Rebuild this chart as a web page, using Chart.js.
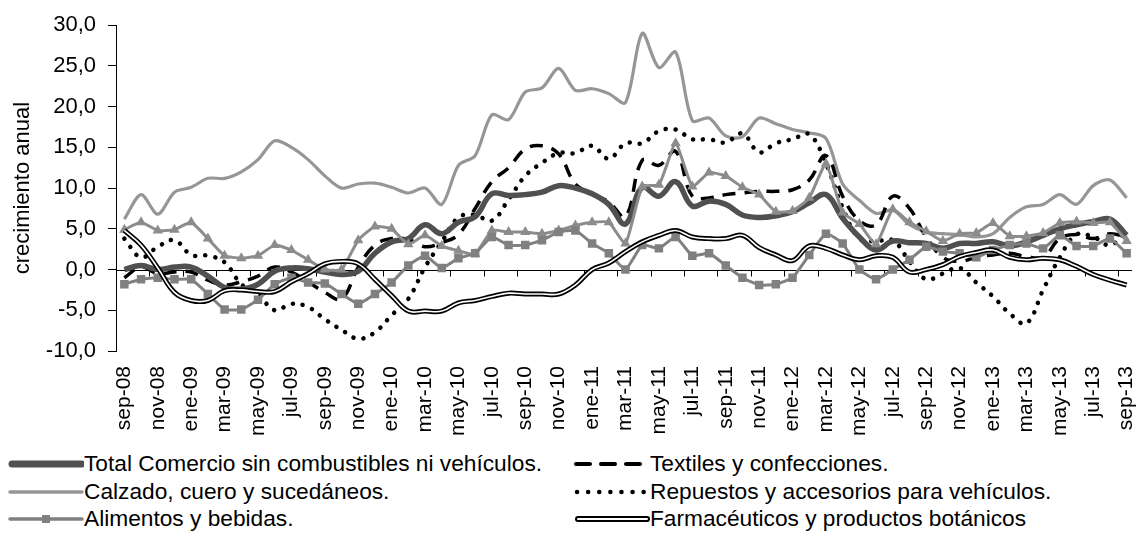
<!DOCTYPE html>
<html>
<head>
<meta charset="utf-8">
<script src="https://cdn.jsdelivr.net/npm/chart.js@4.4.1/dist/chart.umd.min.js"></script>
<style>
  html, body { margin: 0; padding: 0; background: #fff; }
  #wrap { position: relative; width: 1144px; height: 544px; overflow: hidden; font-family: 'Liberation Sans', Arimo, Arial, sans-serif; }
  #chartBox { position: absolute; left: 0; top: 0; width: 1144px; height: 450px; }
  .leg { position: absolute; height: 28px; display: flex; align-items: center; white-space: nowrap; }
  .leg svg { flex: none; }
  .leg span { font-size: 22px; color: #000; display: inline-block; transform-origin: left center; line-height: 28px; }
</style>
</head>
<body>
<div id="wrap">
  <div id="chartBox"><canvas id="c"></canvas></div>
  <div id="legend"></div>
</div>
<script>
const categories = ["sep-08","oct-08","nov-08","dic-08","ene-09","feb-09","mar-09","abr-09","may-09","jun-09",
  "jul-09","ago-09","sep-09","oct-09","nov-09","dic-09","ene-10","feb-10","mar-10","abr-10",
  "may-10","jun-10","jul-10","ago-10","sep-10","oct-10","nov-10","dic-10","ene-11","feb-11",
  "mar-11","abr-11","may-11","jun-11","jul-11","ago-11","sep-11","oct-11","nov-11","dic-11",
  "ene-12","feb-12","mar-12","abr-12","may-12","jun-12","jul-12","ago-12","sep-12","oct-12",
  "nov-12","dic-12","ene-13","feb-13","mar-13","abr-13","may-13","jun-13","jul-13","ago-13",
  "sep-13"];

const totalComercio = [0.0, 0.5, 0.0, 0.3, 0.3, -0.8, -2.2, -2.4, -1.8, -0.2,
  0.2, 0.1, -0.3, -0.6, -0.2, 2.0, 3.4, 3.8, 5.5, 4.4,
  5.8, 6.5, 9.3, 9.1, 9.2, 9.5, 10.3, 10.0, 9.3, 8.0,
  5.6, 10.1, 9.0, 10.8, 7.8, 8.4, 8.0, 6.7, 6.4, 6.6,
  7.1, 8.2, 9.2, 6.3, 4.0, 2.4, 3.5, 3.3, 3.2, 2.6,
  3.2, 3.2, 3.4, 2.9, 3.4, 4.2, 5.0, 5.5, 5.9, 6.2,
  4.2];

const textiles = [-1.0, 0.3, -0.5, -0.3, -0.3, -1.3, -1.9, -1.5, -0.8, 0.3,
  -0.3, -1.5, -2.8, -3.6, 0.3, 3.0, 3.8, 3.7, 2.8, 3.3,
  4.3, 7.5, 10.8, 12.5, 14.8, 15.2, 14.2, 10.5, 9.3, 8.3,
  6.5, 13.4, 12.8, 14.5, 9.0, 8.8, 9.2, 9.4, 9.6, 9.6,
  9.8, 11.0, 14.0, 9.0, 6.0, 5.5, 9.0, 7.5, 4.0, 1.5,
  1.0, 1.5, 1.8, 2.0, 1.6, 1.5, 3.8, 4.3, 3.8, 4.4,
  4.0];

const calzado = [6.2, 9.2, 6.8, 9.5, 10.1, 11.2, 11.2, 12.0, 13.5, 15.8,
  15.0, 13.5, 11.5, 10.0, 10.5, 10.6, 10.1, 9.4, 10.0, 8.0,
  12.8, 14.0, 19.0, 18.4, 21.8, 22.3, 24.7, 22.0, 22.2, 21.6,
  20.5, 29.0, 24.8, 26.7, 18.3, 18.6, 16.4, 16.3, 18.6, 17.9,
  17.2, 16.8, 16.1, 10.5, 8.5, 6.9, 7.3, 5.5, 4.6, 4.4,
  4.3, 4.0, 4.4, 6.4, 7.7, 8.0, 9.2, 8.0, 10.3, 11.0,
  8.8];

const repuestos = [3.8, 1.5, 2.8, 3.6, 1.8, 1.7, 0.9, -1.8, -3.0, -5.0,
  -4.2, -4.6, -6.1, -7.4, -8.5, -7.7, -5.6, -3.6, 0.3, 3.4,
  6.4, 6.7, 6.0, 8.6, 11.5, 13.1, 14.3, 14.3, 15.2, 13.6,
  15.5, 15.5, 17.0, 17.2, 16.0, 16.0, 15.6, 16.7, 14.4, 15.5,
  16.0, 16.6, 13.0, 7.6, 3.8, 3.5, 3.6, 1.0, -1.2, -0.5,
  0.2, -1.6, -3.3, -5.4, -6.6, -2.5, 1.5, 4.3, 4.0, 3.0,
  4.7];

const alimentos = [-1.8, -1.2, -1.0, -1.2, -1.2, -3.0, -4.9, -4.9, -3.7, -1.8,
  -1.0, -1.6, -1.7, -3.0, -4.2, -3.0, -1.6, 0.5, 1.7, 0.2,
  1.4, 2.0, 4.0, 3.0, 3.0, 3.6, 4.6, 4.8, 3.2, 2.0,
  0.0, 3.0, 2.6, 4.0, 1.7, 2.0, 0.5, -1.0, -1.9, -1.8,
  -1.0, 1.8, 4.4, 3.2, 0.0, -1.2, 0.0, 1.2, 2.8, 2.2,
  2.0, 1.5, 2.4, 3.0, 3.2, 2.6, 4.2, 2.9, 2.9, 3.8,
  2.0];

const farmaceuticos = [4.8, 3.0, 0.2, -2.8, -3.8, -3.8, -2.6, -2.5, -2.7, -2.7,
  -1.5, -0.5, 0.7, 1.0, 0.7, -1.2, -3.2, -5.1, -5.1, -5.1,
  -4.1, -3.8, -3.3, -2.9, -3.0, -3.0, -3.0, -1.9, 0.0, 0.8,
  2.2, 3.4, 4.2, 4.8, 4.0, 3.8, 3.8, 4.2, 2.7, 1.8,
  1.1, 2.9, 2.6, 1.8, 1.2, 1.7, 1.5, -0.3, 0.0, 0.6,
  1.6, 2.1, 2.4, 1.5, 1.2, 1.4, 1.2, 0.4, -0.6, -1.3,
  -1.9];

// series drawn with triangle markers (no legend entry in the original)
const serieTriangulos = [4.9, 5.8, 4.8, 4.9, 5.8, 3.8, 1.7, 1.4, 1.7, 3.0,
  2.4, 1.2, 0.0, 0.0, 3.6, 5.3, 5.0, 3.1, 4.2, 2.9,
  2.3, 1.9, 4.8, 4.6, 4.6, 4.4, 4.8, 5.4, 5.8, 5.8,
  3.2, 10.2, 10.4, 15.5, 10.2, 11.9, 11.5, 10.1, 9.2, 7.1,
  7.2, 8.8, 13.0, 7.0, 5.6, 3.1, 7.4, 5.8, 4.7, 3.5,
  4.4, 4.5, 5.7, 4.1, 4.1, 4.5, 5.7, 5.9, 5.7, 5.8,
  3.5];

const seriesNames = {
  total: "Total Comercio sin combustibles ni vehículos.",
  textiles: "Textiles y confecciones.",
  calzado: "Calzado, cuero y sucedáneos.",
  repuestos: "Repuestos y accesorios para vehículos.",
  alimentos: "Alimentos y bebidas.",
  farma: "Farmacéuticos y productos botánicos"
};
const yAxisTitle = "crecimiento anual";

const FONT = "'Liberation Sans', Arimo, Arial, sans-serif";
const C_TOTAL = '#505050', C_CALZ = '#969696', C_ALIM = '#808080', C_TRI = '#8c8c8c';

const zeroAxis = {
  id: 'zeroAxis',
  beforeDatasetsDraw(chart) {
    const { ctx, chartArea, scales } = chart;
    const x = scales.x, y = scales.y;
    const y0 = Math.round(y.getPixelForValue(0)) + 0.5;
    const step = x.getPixelForValue(1) - x.getPixelForValue(0);
    ctx.save();
    ctx.strokeStyle = '#000';
    ctx.lineWidth = 1;
    ctx.beginPath();
    ctx.moveTo(chartArea.left, y0);
    ctx.lineTo(chartArea.right - 3, y0);
    for (let i = 0; i < categories.length; i += 2) {
      const bx = Math.round(x.getPixelForValue(i) - step / 2) + 0.5;
      ctx.moveTo(bx, y0);
      ctx.lineTo(bx, y0 + 6);
    }
    ctx.stroke();
    ctx.restore();
  }
};

new Chart(document.getElementById('c'), {
  type: 'line',
  data: {
    labels: categories,
    datasets: [
      { label: seriesNames.farma + ' (interior)', data: farmaceuticos, borderColor: '#ffffff', borderWidth: 1.6, pointRadius: 0, tension: 0.4, order: 0 },
      { label: seriesNames.farma, data: farmaceuticos, borderColor: '#000000', borderWidth: 5, pointRadius: 0, tension: 0.4, order: 1 },
      { label: seriesNames.alimentos, data: alimentos, borderColor: C_ALIM, backgroundColor: C_ALIM, borderWidth: 3, pointStyle: 'rect', pointRadius: 6, pointBorderWidth: 0, tension: 0.15, order: 2 },
      { label: 'Serie con triángulos', data: serieTriangulos, borderColor: C_TRI, backgroundColor: C_TRI, borderWidth: 3, pointStyle: 'triangle', pointRadius: 6, pointBorderWidth: 0, tension: 0.15, order: 3 },
      { label: seriesNames.total, data: totalComercio, borderColor: C_TOTAL, borderWidth: 5.5, pointRadius: 0, tension: 0.4, order: 4 },
      { label: seriesNames.repuestos, data: repuestos, borderColor: '#000', borderWidth: 4.5, borderDash: [0.1, 10], borderCapStyle: 'round', pointRadius: 0, tension: 0.4, order: 5 },
      { label: seriesNames.textiles, data: textiles, borderColor: '#000', borderWidth: 3.5, borderDash: [13, 9], pointRadius: 0, tension: 0.4, order: 6 },
      { label: seriesNames.calzado, data: calzado, borderColor: C_CALZ, borderWidth: 3.2, pointRadius: 0, tension: 0.3, order: 7 }
    ]
  },
  options: {
    responsive: true,
    maintainAspectRatio: false,
    animation: false,
    devicePixelRatio: 1,
    layout: { padding: { top: 16, right: 9, bottom: 0, left: 0 } },
    plugins: { legend: { display: false }, tooltip: { enabled: false } },
    scales: {
      x: {
        type: 'category',
        offset: true,
        grid: { display: false, drawTicks: false },
        border: { display: false },
        ticks: {
          autoSkip: false, maxRotation: 90, minRotation: 90,
          color: '#000', padding: 15,
          font: { family: FONT, size: 21 },
          callback: function (v, i) { return i % 2 === 0 ? categories[i] : null; }
        },
        afterFit: function (s) { s.height = 99; s.paddingLeft = 0; s.paddingRight = 0; }
      },
      y: {
        min: -10, max: 30,
        ticks: {
          stepSize: 5, color: '#000', padding: 12,
          font: { family: FONT, size: 22 },
          callback: function (v) { return v.toFixed(1).replace('.', ','); }
        },
        grid: { drawOnChartArea: false, drawTicks: true, tickLength: 8, color: '#000' },
        border: { display: true, color: '#000', width: 1 },
        title: { display: true, text: yAxisTitle, color: '#000', font: { family: FONT, size: 22 }, padding: { top: 10, bottom: 0 } },
        afterFit: function (s) { s.width = 116; }
      }
    }
  },
  plugins: [zeroAxis]
});

// legend (HTML)
function sample(kind) {
  const w = 76, h = 14, m = 7;
  let s = '';
  if (kind === 'total') s = `<line x1="4" y1="${m}" x2="${w-2}" y2="${m}" stroke="${C_TOTAL}" stroke-width="7" stroke-linecap="round"/>`;
  if (kind === 'calzado') s = `<line x1="2" y1="${m}" x2="${w-2}" y2="${m}" stroke="${C_CALZ}" stroke-width="3.5" stroke-linecap="round"/>`;
  if (kind === 'alimentos') s = `<line x1="2" y1="${m}" x2="${w-2}" y2="${m}" stroke="${C_ALIM}" stroke-width="3.5" stroke-linecap="round"/><rect x="${w/2-4}" y="${m-4}" width="8" height="8" fill="${C_ALIM}"/>`;
  if (kind === 'textiles') s = `<line x1="2" y1="${m}" x2="${w}" y2="${m}" stroke="#000" stroke-width="4" stroke-dasharray="14 11" stroke-linecap="round"/>`;
  if (kind === 'repuestos') s = `<line x1="3" y1="${m}" x2="${w}" y2="${m}" stroke="#000" stroke-width="4.5" stroke-dasharray="0.1 11" stroke-linecap="round"/>`;
  if (kind === 'farma') s = `<line x1="4" y1="${m}" x2="${w-3}" y2="${m}" stroke="#000" stroke-width="6" stroke-linecap="round"/><line x1="4" y1="${m}" x2="${w-3}" y2="${m}" stroke="#fff" stroke-width="2" stroke-linecap="round"/>`;
  return `<svg width="${w}" height="${h}" viewBox="0 0 ${w} ${h}">${s}</svg>`;
}
const legendItems = [
  { k: 'total', x: 8, y: 450 }, { k: 'calzado', x: 8, y: 478 }, { k: 'alimentos', x: 8, y: 505 },
  { k: 'textiles', x: 574, y: 450 }, { k: 'repuestos', x: 574, y: 478 }, { k: 'farma', x: 574, y: 505 }
];
// horizontal fit so the longest legend label spans ~458px, as in the original
const mctx = document.createElement('canvas').getContext('2d');
mctx.font = '22px ' + FONT;
const legScale = 458 / mctx.measureText(seriesNames.total).width;
const leg = document.getElementById('legend');
legendItems.forEach(it => {
  const d = document.createElement('div');
  d.className = 'leg';
  d.style.left = it.x + 'px';
  d.style.top = it.y + 'px';
  d.innerHTML = sample(it.k) + '<span style="transform:scaleX(' + legScale.toFixed(3) + ')">' + seriesNames[it.k] + '</span>';
  leg.appendChild(d);
});
</script>
</body>
</html>
